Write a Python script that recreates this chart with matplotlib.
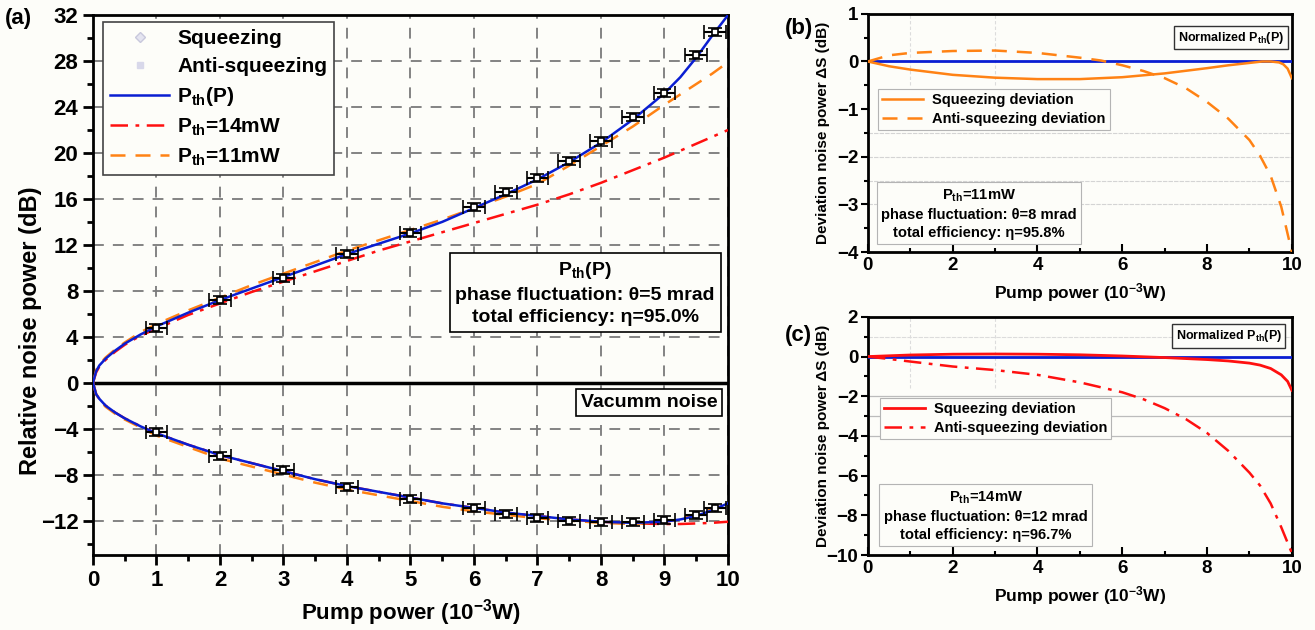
import matplotlib
matplotlib.use('Agg')
import matplotlib.pyplot as plt
from matplotlib.lines import Line2D
from matplotlib.ticker import MultipleLocator

plt.rcParams['font.family'] = ['Liberation Sans', 'DejaVu Sans']
plt.rcParams['font.weight'] = 'bold'
plt.rcParams['axes.labelweight'] = 'bold'
plt.rcParams['mathtext.fontset'] = 'custom'
plt.rcParams['mathtext.rm'] = 'Liberation Sans:bold'
plt.rcParams['mathtext.it'] = 'Liberation Sans:bold'
plt.rcParams['mathtext.bf'] = 'Liberation Sans:bold'
plt.rcParams['mathtext.default'] = 'rm'

BLUE = '#0a1ed2'
RED = '#ff1010'
ORANGE = '#ff8214'
BG = '#fdfdf9'

# ---- panel (a): theory curves ----
pump = [0, 0.05, 0.1, 0.2, 0.35, 0.5, 0.75, 1, 1.5, 2, 2.5, 3, 3.5, 4, 4.5, 5,
        5.5, 6, 6.5, 7, 7.5, 8, 8.5, 9, 9.25, 9.5, 9.75, 10]
anti_pth = [0, 1.0, 1.5, 2.1, 2.8, 3.4, 4.2, 4.9, 6.1, 7.2, 8.2, 9.2, 10.2, 11.2, 12.1, 13.0,
            14.0, 15.2, 16.4, 17.7, 19.2, 20.9, 22.9, 25.2, 26.6, 28.3, 30.2, 32.0]
anti_11 = [0, 1.1, 1.6, 2.2, 2.9, 3.5, 4.4, 5.1, 6.3, 7.4, 8.5, 9.5, 10.5, 11.5, 12.4, 13.3,
           14.2, 15.2, 16.2, 17.3, 18.9, 20.6, 22.3, 24.2, 25.1, 26.0, 26.9, 27.9]
anti_14 = [0, 0.9, 1.4, 2.0, 2.7, 3.3, 4.1, 4.7, 5.9, 6.9, 7.9, 8.8, 9.7, 10.6, 11.5, 12.3,
           13.1, 13.9, 14.7, 15.5, 16.4, 17.4, 18.5, 19.6, 20.2, 20.8, 21.4, 22.0]
sq_pth = [0, -1.0, -1.4, -2.0, -2.6, -3.1, -3.8, -4.4, -5.4, -6.3, -7.0, -7.7, -8.4, -9.0, -9.5, -10.0,
          -10.5, -10.9, -11.3, -11.6, -11.9, -12.1, -12.2, -12.1, -11.9, -11.6, -11.1, -10.5]
sq_11 = [0, -1.0, -1.5, -2.1, -2.7, -3.2, -3.9, -4.6, -5.6, -6.6, -7.3, -8.0, -8.7, -9.3, -9.8, -10.3,
         -10.8, -11.2, -11.5, -11.8, -12.0, -12.2, -12.3, -12.1, -11.9, -11.4, -11.0, -10.6]
sq_14 = [0, -1.0, -1.4, -2.0, -2.6, -3.1, -3.8, -4.4, -5.4, -6.3, -7.0, -7.7, -8.4, -9.0, -9.5, -10.0,
         -10.5, -10.9, -11.3, -11.6, -11.9, -12.1, -12.25, -12.3, -12.3, -12.25, -12.2, -12.1]

# ---- panel (a): measured points ----
meas_p = [1, 2, 3, 4, 5, 6, 6.5, 7, 7.5, 8, 8.5, 9, 9.5, 9.8]
meas_anti = [4.8, 7.2, 9.1, 11.2, 13.0, 15.3, 16.6, 17.8, 19.3, 21.0, 23.1, 25.2, 28.5, 30.5]
meas_sq = [-4.25, -6.4, -7.6, -9.1, -10.1, -10.9, -11.4, -11.75, -12.0, -12.1, -12.15, -11.95, -11.5, -10.9]
meas_xerr = 0.17
meas_yerr = 0.35

# ---- panel (b): Pth = 11 mW deviations ----
dev_b_x = [0, 0.5, 1, 2, 3, 4, 5, 6, 7, 8, 8.5, 9, 9.3, 9.5, 9.7, 9.8, 9.9, 10]
dev_b_sq = [0, -0.1, -0.17, -0.28, -0.34, -0.37, -0.37, -0.33, -0.25, -0.14, -0.08, -0.03,
            0.0, 0.0, -0.02, -0.06, -0.15, -0.35]
dev_b_ax = [0, 0.5, 1, 2, 3, 4, 5, 5.5, 6, 6.5, 7, 7.5, 8, 8.5, 9, 9.25, 9.5, 9.75, 10]
dev_b_anti = [0, 0.13, 0.18, 0.22, 0.23, 0.18, 0.08, 0.02, -0.08, -0.2, -0.35, -0.56, -0.85,
              -1.2, -1.65, -1.98, -2.4, -3.05, -4.0]

# ---- panel (c): Pth = 14 mW deviations ----
dev_c_x = [0, 1, 2, 3, 4, 5, 6, 7, 8, 8.5, 9, 9.25, 9.5, 9.75, 9.9, 10]
dev_c_sq = [0, 0.08, 0.12, 0.13, 0.12, 0.09, 0.03, -0.05, -0.15, -0.22, -0.33, -0.43, -0.6,
            -0.92, -1.25, -1.7]
dev_c_ax = [0, 0.5, 1, 2, 3, 4, 5, 6, 6.5, 7, 7.5, 8, 8.5, 9, 9.25, 9.5, 9.75, 10]
dev_c_anti = [0, -0.12, -0.25, -0.5, -0.68, -0.92, -1.3, -1.8, -2.15, -2.6, -3.15, -3.85,
              -4.75, -5.85, -6.5, -7.4, -8.6, -9.9]

xlabel = 'Pump power (10$^{-3}$W)'
dash = (0, (6, 4))
dashdot = (0, (7, 3, 1.5, 3))


def bold_ticks(ax, size):
    for lab in ax.get_xticklabels() + ax.get_yticklabels():
        lab.set_fontweight('bold')
        lab.set_fontsize(size)


fig = plt.figure(figsize=(13.15, 6.3), dpi=100, facecolor=BG)
ax_a = fig.add_axes([0.0707, 0.119, 0.4829, 0.857])
ax_b = fig.add_axes([0.660, 0.600, 0.3224, 0.378])
ax_c = fig.add_axes([0.660, 0.119, 0.3224, 0.378])

for ax in (ax_a, ax_b, ax_c):
    ax.set_facecolor(BG)
    for s in ax.spines.values():
        s.set_linewidth(2)

# ===== (a) =====
ax = ax_a
ax.set_xlim(0, 10)
ax.set_ylim(-15, 32)
ax.xaxis.set_major_locator(MultipleLocator(1))
ax.xaxis.set_minor_locator(MultipleLocator(0.5))
ax.yaxis.set_major_locator(MultipleLocator(4))
ax.yaxis.set_minor_locator(MultipleLocator(2))
ax.tick_params(which='major', direction='out', length=7, width=2)
ax.tick_params(which='minor', direction='out', length=4, width=2)
bold_ticks(ax, 16)
ax.grid(True, which='major', color='#7a7a7a', linestyle=(0, (6, 5)), linewidth=1.3)
ax.axhline(0, color='black', linewidth=2.5, zorder=3)

ax.plot(pump, anti_14, color=RED, linestyle=dashdot, linewidth=1.8, zorder=4)
ax.plot(pump, sq_14, color=RED, linestyle=dashdot, linewidth=1.8, zorder=4)
ax.plot(pump, anti_11, color=ORANGE, linestyle=dash, linewidth=1.8, zorder=4)
ax.plot(pump, sq_11, color=ORANGE, linestyle=dash, linewidth=1.8, zorder=4)
ax.plot(pump, anti_pth, color=BLUE, linewidth=1.8, zorder=5)
ax.plot(pump, sq_pth, color=BLUE, linewidth=1.8, zorder=5)

for yvals in (meas_anti, meas_sq):
    ax.errorbar(meas_p, yvals, xerr=meas_xerr, yerr=meas_yerr, fmt='s', ms=5,
                mfc='white', mec='black', mew=1.2, ecolor='black', elinewidth=1.5,
                capsize=5, capthick=1.5, zorder=6)

handles = [
    Line2D([], [], linestyle='none', marker='D', ms=5, mfc='#e4e4f0', mec='#c8c8dc'),
    Line2D([], [], linestyle='none', marker='s', ms=5, mfc='#d8d8ea', mec='#d8d8ea'),
    Line2D([], [], color=BLUE, linewidth=1.8),
    Line2D([], [], color=RED, linestyle=dashdot, linewidth=1.8),
    Line2D([], [], color=ORANGE, linestyle=dash, linewidth=1.8),
]
labels = ['Squeezing', 'Anti-squeezing', 'P$_{th}$(P)', 'P$_{th}$=14mW', 'P$_{th}$=11mW']
leg = ax.legend(handles, labels, loc='upper left', bbox_to_anchor=(0.016, 0.987),
                fontsize=15, handlelength=2.8, handletextpad=0.4, labelspacing=0.42,
                borderpad=0.35, fancybox=False, framealpha=1, edgecolor='#444444',
                facecolor=BG, borderaxespad=0)
leg.get_frame().set_linewidth(1.2)

ax.text(0.775, 0.485, 'P$_{th}$(P)\nphase fluctuation: θ=5 mrad\ntotal efficiency: η=95.0%',
        transform=ax.transAxes, ha='center', va='center', fontsize=14, linespacing=1.4,
        bbox=dict(boxstyle='square,pad=0.3', fc=BG, ec='black', lw=1.2), zorder=7)
ax.text(0.876, 0.283, 'Vacumm noise', transform=ax.transAxes, ha='center', va='center',
        fontsize=14, bbox=dict(boxstyle='square,pad=0.25', fc=BG, ec='black', lw=1.2), zorder=7)
ax.set_xlabel(xlabel, fontsize=16, labelpad=5)
ax.set_ylabel('Relative noise power (dB)', fontsize=17)
ax.yaxis.set_label_coords(-0.08, 0.415)

# ===== (b) and (c) shared styling =====
for ax in (ax_b, ax_c):
    ax.set_xlim(0, 10)
    ax.xaxis.set_major_locator(MultipleLocator(2))
    ax.xaxis.set_minor_locator(MultipleLocator(1))
    ax.tick_params(axis='x', which='major', direction='in', length=6, width=1.5)
    ax.tick_params(axis='x', which='minor', direction='in', length=3, width=1.5)
    ax.tick_params(axis='y', which='major', direction='out', length=5, width=1.5, pad=2)
    ax.tick_params(axis='y', which='minor', direction='out', length=3, width=1.5)
    ax.set_xlabel(xlabel, fontsize=12.5, labelpad=5)
    ax.set_ylabel('Deviation noise power ΔS (dB)', fontsize=11)
    ax.yaxis.set_label_coords(-0.09, 0.5)
    ax.axhline(0, color=BLUE, linewidth=2, zorder=4)
    ax.axvline(1, ymin=0.7, color='#dcdcdc', linewidth=0.8, linestyle=(0, (3, 2)), zorder=1)
    ax.axvline(3, ymin=0.7, color='#dcdcdc', linewidth=0.8, linestyle=(0, (3, 2)), zorder=1)

# ===== (b) =====
ax = ax_b
ax.set_ylim(-4, 1)
ax.yaxis.set_major_locator(MultipleLocator(1))
ax.yaxis.set_minor_locator(MultipleLocator(0.5))
bold_ticks(ax, 13.5)
for yv in (-1.5, -2, -2.5, -3):
    ax.axhline(yv, color='#d4d4d4', linewidth=0.8, linestyle=(0, (4, 1)), zorder=1)
ax.plot(dev_b_x, dev_b_sq, color=ORANGE, linewidth=1.8, zorder=5)
ax.plot(dev_b_ax, dev_b_anti, color=ORANGE, linestyle=dash, linewidth=1.8, zorder=5)
leg = ax.legend([Line2D([], [], color=ORANGE, linewidth=1.8),
                 Line2D([], [], color=ORANGE, linestyle=dash, linewidth=1.8)],
                ['Squeezing deviation', 'Anti-squeezing deviation'],
                loc='upper left', bbox_to_anchor=(0.024, 0.685), fontsize=10.5,
                handlelength=2.8, handletextpad=0.6, labelspacing=0.3, borderpad=0.3,
                fancybox=False, framealpha=1, edgecolor='#b4b4b4', facecolor=BG,
                borderaxespad=0)
leg.get_frame().set_linewidth(0.8)
ax.text(0.856, 0.9, 'Normalized P$_{th}$(P)', transform=ax.transAxes, ha='center',
        va='center', fontsize=9,
        bbox=dict(boxstyle='square,pad=0.3', fc=BG, ec='#333333', lw=1))
ax.text(0.262, 0.16, 'P$_{th}$=11mW\nphase fluctuation: θ=8 mrad\ntotal efficiency: η=95.8%',
        transform=ax.transAxes, ha='center', va='center', fontsize=10.6, linespacing=1.35,
        bbox=dict(boxstyle='square,pad=0.3', fc=BG, ec='#b4b4b4', lw=0.8), zorder=6)

# ===== (c) =====
ax = ax_c
ax.set_ylim(-10, 2)
ax.yaxis.set_major_locator(MultipleLocator(2))
ax.yaxis.set_minor_locator(MultipleLocator(1))
bold_ticks(ax, 13.5)
ax.axhline(1, color='#dcdcdc', linewidth=0.8, linestyle=(0, (4, 1)), zorder=1)
for yv in (-2, -3, -4):
    ax.axhline(yv, color='#bcbcbc', linewidth=0.9, zorder=1)
ax.plot(dev_c_x, dev_c_sq, color=RED, linewidth=2, zorder=5)
ax.plot(dev_c_ax, dev_c_anti, color=RED, linestyle=dashdot, linewidth=1.8, zorder=5)
leg = ax.legend([Line2D([], [], color=RED, linewidth=2),
                 Line2D([], [], color=RED, linestyle=dashdot, linewidth=1.8)],
                ['Squeezing deviation', 'Anti-squeezing deviation'],
                loc='upper left', bbox_to_anchor=(0.028, 0.66), fontsize=10.5,
                handlelength=2.8, handletextpad=0.6, labelspacing=0.3, borderpad=0.3,
                fancybox=False, framealpha=1, edgecolor='#b4b4b4', facecolor=BG,
                borderaxespad=0)
leg.get_frame().set_linewidth(0.8)
ax.text(0.851, 0.92, 'Normalized P$_{th}$(P)', transform=ax.transAxes, ha='center',
        va='center', fontsize=9,
        bbox=dict(boxstyle='square,pad=0.3', fc=BG, ec='#333333', lw=1))
ax.text(0.278, 0.164, 'P$_{th}$=14mW\nphase fluctuation: θ=12 mrad\ntotal efficiency: η=96.7%',
        transform=ax.transAxes, ha='center', va='center', fontsize=10.6, linespacing=1.35,
        bbox=dict(boxstyle='square,pad=0.3', fc=BG, ec='#b4b4b4', lw=0.8), zorder=6)

# panel letters
fig.text(0.0035, 0.971, '(a)', fontsize=16, va='center', ha='left')
fig.text(0.597, 0.955, '(b)', fontsize=16, va='center', ha='left')
fig.text(0.597, 0.468, '(c)', fontsize=16, va='center', ha='left')

fig.savefig('out.png', dpi=100, facecolor=BG)
